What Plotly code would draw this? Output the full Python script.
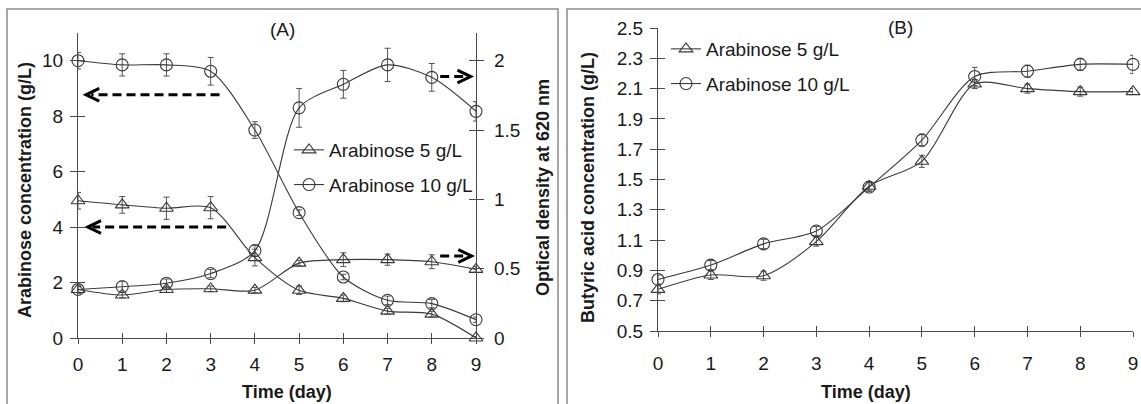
import plotly.graph_objects as go

W, H = 1141, 404

days = [0, 1, 2, 3, 4, 5, 6, 7, 8, 9]
tick_days = ["0", "1", "2", "3", "4", "5", "6", "7", "8", "9"]

# Panel A: arabinose concentration (g/L, left axis)
ara5_conc = [4.95, 4.8, 4.68, 4.7, 2.9, 1.72, 1.43, 0.97, 0.86, 0.0]
ara5_conc_err = [0.3, 0.3, 0.4, 0.4, 0.3, 0.15, 0.12, 0.1, 0.1, 0.05]
ara10_conc = [10.0, 9.85, 9.85, 9.62, 7.5, 4.52, 2.2, 1.36, 1.24, 0.66]
ara10_conc_err = [0.3, 0.4, 0.4, 0.5, 0.3, 0.1, 0.1, 0.15, 0.15, 0.1]

# Panel A: optical density at 620 nm (right axis)
ara5_od = [0.35, 0.31, 0.35, 0.355, 0.345, 0.54, 0.565, 0.565, 0.55, 0.495]
ara5_od_err = [0.02, 0.02, 0.02, 0.02, 0.02, 0.02, 0.05, 0.04, 0.05, 0.02]
ara10_od = [0.35, 0.37, 0.395, 0.465, 0.63, 1.66, 1.83, 1.97, 1.88, 1.635]
ara10_od_err = [0.03, 0.04, 0.03, 0.03, 0.04, 0.14, 0.1, 0.12, 0.1, 0.07]

# Panel B: butyric acid concentration (g/L)
ara5_but = [0.775, 0.87, 0.865, 1.09, 1.455, 1.62, 2.13, 2.10, 2.08, 2.08]
ara5_but_err = [0.03, 0.03, 0.03, 0.03, 0.03, 0.04, 0.03, 0.03, 0.03, 0.02]
ara10_but = [0.84, 0.935, 1.075, 1.16, 1.45, 1.76, 2.18, 2.215, 2.26, 2.26]
ara10_but_err = [0.03, 0.03, 0.03, 0.03, 0.03, 0.04, 0.06, 0.04, 0.04, 0.06]

left_ticks = [0, 2, 4, 6, 8, 10]
right_ticks = [0, 0.5, 1, 1.5, 2]
right_tick_text = ["0", "0.5", "1", "1.5", "2"]
b_ticks = [0.5, 0.7, 0.9, 1.1, 1.3, 1.5, 1.7, 1.9, 2.1, 2.3, 2.5]
b_tick_text = ["0.5", "0.7", "0.9", "1.1", "1.3", "1.5", "1.7", "1.9", "2.1", "2.3", "2.5"]

name5 = "Arabinose 5 g/L"
name10 = "Arabinose 10 g/L"

FONT = "Liberation Sans, Arial, sans-serif"
DARK = "#3a3a3a"
AX = "#4a4a4a"


def px(x):
    return x / W


def py(y):
    return 1 - y / H


def series(x, y, err, symbol, xa, ya, name=None, legend=None):
    return go.Scatter(
        x=x, y=y, xaxis=xa, yaxis=ya,
        mode="lines+markers",
        name=name if name else "",
        showlegend=name is not None,
        legend=legend,
        legendgroup=name,
        line=dict(color=DARK, width=1.1, shape="spline", smoothing=0.8),
        marker=dict(symbol=symbol, size=12, color=DARK,
                    line=dict(color=DARK, width=1.1)),
        error_y=dict(type="data", array=err, visible=True, color="#555555",
                     thickness=1, width=3),
        cliponaxis=False,
    )


fig = go.Figure()
fig.add_trace(series(days, ara5_conc, ara5_conc_err, "triangle-up-open", "x", "y", name5, "legend"))
fig.add_trace(series(days, ara10_conc, ara10_conc_err, "circle-open", "x", "y", name10, "legend"))
fig.add_trace(series(days, ara5_od, ara5_od_err, "triangle-up-open", "x", "y2"))
fig.add_trace(series(days, ara10_od, ara10_od_err, "circle-open", "x", "y2"))
fig.add_trace(series(days, ara5_but, ara5_but_err, "triangle-up-open", "x2", "y3", name5, "legend2"))
fig.add_trace(series(days, ara10_but, ara10_but_err, "circle-open", "x2", "y3", name10, "legend2"))

# empty traces so the overlay axes (inner halves of crossing ticks) get drawn
for xa, ya in [("x3", "y4"), ("x3", "y5"), ("x4", "y6")]:
    fig.add_trace(go.Scatter(x=[], y=[], xaxis=xa, yaxis=ya, showlegend=False,
                             hoverinfo="skip"))

A_dom_x = [px(78), px(476)]
A_dom_y = [py(338), py(33)]
B_dom_x = [px(658), px(1133)]
B_dom_y = [py(331), py(28)]

tickfont = dict(family=FONT, size=19, color="#1a1a1a")
common = dict(showgrid=False, zeroline=False, showline=True, linecolor=AX,
              linewidth=1.2, tickcolor=AX, tickwidth=1.2, tickfont=tickfont,
              automargin=False)

fig.update_layout(
    width=W, height=H,
    margin=dict(l=0, r=0, t=0, b=0, pad=0, autoexpand=False),
    paper_bgcolor="white", plot_bgcolor="rgba(0,0,0,0)",
    font=dict(family=FONT, color="#1a1a1a"),
    xaxis=dict(domain=A_dom_x, range=[0, 9], anchor="y", tickmode="array",
               tickvals=days, ticktext=tick_days, ticks="outside", ticklen=5,
               ticklabelstandoff=4, **common),
    yaxis=dict(domain=A_dom_y, range=[0, 11], anchor="x", tickmode="array",
               tickvals=left_ticks, ticks="outside", ticklen=7,
               ticklabelstandoff=3, **common),
    yaxis2=dict(domain=A_dom_y, range=[0, 2.2], anchor="x", overlaying="y",
                side="right", tickmode="array", tickvals=right_ticks,
                ticktext=right_tick_text, ticks="outside", ticklen=7,
                ticklabelstandoff=6, **common),
    xaxis2=dict(domain=B_dom_x, range=[0, 9], anchor="y3", tickmode="array",
                tickvals=days, ticktext=tick_days, ticks="outside", ticklen=5,
                ticklabelstandoff=10, **common),
    yaxis3=dict(domain=B_dom_y, range=[0.5, 2.5], anchor="x2", tickmode="array",
                tickvals=b_ticks, ticktext=b_tick_text, ticks="outside",
                ticklen=7, ticklabelstandoff=3, **common),
    # inner halves of the crossing tick marks
    xaxis3=dict(domain=A_dom_x, range=[0, 9], overlaying="x", anchor="y",
                tickmode="array", tickvals=days, ticks="inside", ticklen=5,
                showticklabels=False, **common),
    yaxis4=dict(domain=A_dom_y, range=[0, 11], overlaying="y", anchor="x",
                tickmode="array", tickvals=left_ticks, ticks="inside",
                ticklen=7, showticklabels=False, **common),
    yaxis5=dict(domain=A_dom_y, range=[0, 2.2], overlaying="y", anchor="x",
                side="right", tickmode="array", tickvals=right_ticks,
                ticks="inside", ticklen=7, showticklabels=False, **common),
    xaxis4=dict(domain=B_dom_x, range=[0, 9], overlaying="x2", anchor="y3",
                tickmode="array", tickvals=days, ticks="inside", ticklen=5,
                showticklabels=False, **common),
    yaxis6=dict(domain=B_dom_y, range=[0.5, 2.5], overlaying="y3", anchor="x2",
                tickmode="array", tickvals=b_ticks, ticks="inside", ticklen=7,
                showticklabels=False, **common),
    legend=dict(x=px(289), y=py(131), xanchor="left", yanchor="top",
                bgcolor="rgba(0,0,0,0)", font=dict(family=FONT, size=19),
                traceorder="grouped", tracegroupgap=7, itemwidth=30),
    legend2=dict(x=px(666), y=py(30), xanchor="left", yanchor="top",
                 bgcolor="rgba(0,0,0,0)", font=dict(family=FONT, size=19),
                 traceorder="grouped", tracegroupgap=7, itemwidth=30),
    showlegend=True,
)

# panel frames
fig.add_shape(type="rect", xref="paper", yref="paper", x0=px(7), x1=px(558),
              y0=py(410), y1=py(9), line=dict(color="#8a8a8a", width=1.5))
fig.add_shape(type="rect", xref="paper", yref="paper", x0=px(567), x1=px(1150),
              y0=py(410), y1=py(9), line=dict(color="#8a8a8a", width=1.5))

# dashed arrows (axis indicators) in panel A, in left-axis data units
arrows = [
    # (x_start, x_end, y, tip_x)
    (3.2, 0.3, 8.77, 0.18),
    (3.35, 0.33, 4.0, 0.22),
    (8.19, 8.72, 9.43, 8.88),
    (8.19, 8.74, 2.96, 8.9),
]
for xs, xe, yv, tip in arrows:
    fig.add_shape(type="line", xref="x", yref="y", x0=xs, x1=xe, y0=yv, y1=yv,
                  line=dict(color="black", width=3, dash="9px,5px"))
    back = tip + (0.3 if tip < xs else -0.3)
    fig.add_shape(type="path", xref="x", yref="y",
                  path=f"M {back},{yv + 0.23} L {tip},{yv} L {back},{yv - 0.23}",
                  line=dict(color="black", width=3))

ann_font = dict(family=FONT, size=19, color="#1a1a1a")
title_font = dict(family=FONT, size=18, color="#1a1a1a")
annotations = [
    dict(text="(A)", x=px(282), y=py(30)),
    dict(text="(B)", x=px(900), y=py(27)),
    dict(text="<b>Time (day)</b>", x=px(287), y=py(392), font=title_font),
    dict(text="<b>Time (day)</b>", x=px(866), y=py(392), font=title_font),
    dict(text="<b>Arabinose concentration (g/L)</b>", x=px(25), y=py(190),
         textangle=-90, font=title_font),
    dict(text="<b>Optical density at 620 nm</b>", x=px(543), y=py(188),
         textangle=-90, font=title_font),
    dict(text="<b>Butyric acid concentration (g/L)</b>", x=px(588), y=py(188),
         textangle=-90, font=title_font),
]
for a in annotations:
    a.setdefault("font", ann_font)
    fig.add_annotation(xref="paper", yref="paper", showarrow=False,
                       xanchor="center", yanchor="middle", **a)

# remove the browser's default 8px page margin so the figure fills the window
fig.write_html("out.html",
               config={"displayModeBar": False},
               post_script="document.body.style.margin='0';"
                           "document.body.style.overflow='hidden';")
